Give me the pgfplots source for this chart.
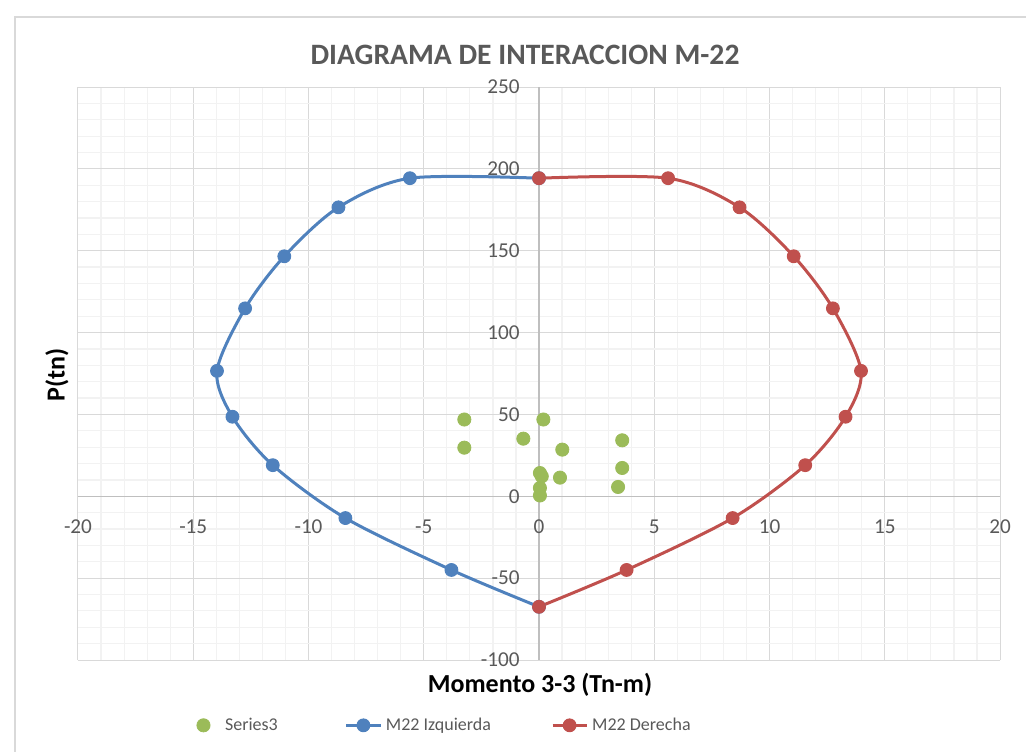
\documentclass[border=0pt]{standalone}
\usepackage{pgfplots}
\pgfplotsset{compat=1.18}
\usepackage{fontspec}
\setmainfont{Carlito}
\definecolor{izq}{HTML}{4F81BD}
\definecolor{der}{HTML}{C0504D}
\definecolor{sthree}{HTML}{9BBB59}
\definecolor{txt}{HTML}{595959}
\definecolor{gmaj}{HTML}{D9D9D9}
\definecolor{gmin}{HTML}{F2F2F2}
\definecolor{axl}{HTML}{BFBFBF}

\begin{document}
\begin{tikzpicture}
\useasboundingbox (0,0) rectangle (513pt,375.5pt);
\draw[gmaj, line width=0.6pt] (7.5pt,367pt) rectangle (530pt,-10pt);
\begin{axis}[
    at={(39pt,45.5pt)}, anchor=south west,
    scale only axis, width=461pt, height=286.5pt,
    xmin=-20, xmax=20, ymin=-100, ymax=250,
    axis lines=middle,
    axis line style={-, draw=axl, line width=0.75pt},
    hide obscured x ticks=false, hide obscured y ticks=false,
    xtick={-20,-15,...,20}, ytick={-100,-50,...,250},
    minor tick num=4,
    grid=both,
    major grid style={draw=gmaj, line width=0.5pt},
    minor grid style={draw=gmin, line width=0.6pt},
    tick style={draw=none},
    ticklabel style={font=\fontsize{10.6}{12}\selectfont, text=txt},
    /pgf/number format/assume math mode=true,
    xticklabel style={anchor=north, yshift=-6pt},
    yticklabel style={anchor=east, xshift=-4pt},
    clip=false,
    legend columns=3,
    legend style={at={(0.122,-0.114)}, anchor=west, draw=none, fill=none,
      font=\fontsize{9}{11}\selectfont, text=txt,
      /tikz/column 1/.style={column sep=5.5pt},
      /tikz/column 2/.style={column sep=31.5pt},
      /tikz/column 4/.style={column sep=28pt}},
  ]
  % Series3: solicitaciones
  \addplot[only marks, mark=*, mark size=3.3pt, color=sthree] coordinates {
    (-3.24,46.9) (-3.24,29.7) (-0.68,35.2) (0.19,46.9) (1.01,28.5)
    (3.61,34.2) (3.61,17.3) (3.43,5.7) (0.91,11.4) (0.04,14.2)
    (0.12,12.2) (0.04,5.1) (0.04,0.5)};
  \addlegendentry{Series3}
  % M22 izquierda
  \addplot[izq, line width=1.5pt, smooth, mark=*, mark size=3.2pt,
    mark options={fill=izq, draw=izq, line width=0.5pt}] coordinates {
    (0,194.3) (-5.6,194.3) (-8.7,176.5) (-11.05,146.6) (-12.75,114.8)
    (-13.97,76.6) (-13.3,48.6) (-11.55,19) (-8.4,-13.3) (-3.8,-45) (0,-67.5)};
  \addlegendentry{M22 Izquierda}
  % M22 derecha
  \addplot[der, line width=1.5pt, smooth, mark=*, mark size=3.2pt,
    mark options={fill=der, draw=der, line width=0.5pt}] coordinates {
    (0,194.3) (5.6,194.3) (8.7,176.5) (11.05,146.6) (12.75,114.8)
    (13.97,76.6) (13.3,48.6) (11.55,19) (8.4,-13.3) (3.8,-45) (0,-67.5)};
  \addlegendentry{M22 Derecha}
\end{axis}
\node[font=\fontsize{14.8}{17}\selectfont\bfseries, text=txt] at (262.5pt,348pt) {DIAGRAMA DE INTERACCION M-22};
\node[font=\fontsize{13}{15}\selectfont\bfseries, rotate=90] at (28.5pt,188pt) {P(tn)};
\node[font=\fontsize{13}{15}\selectfont\bfseries] at (270pt,33pt) {Momento 3-3 (Tn-m)};
\end{tikzpicture}
\end{document}
